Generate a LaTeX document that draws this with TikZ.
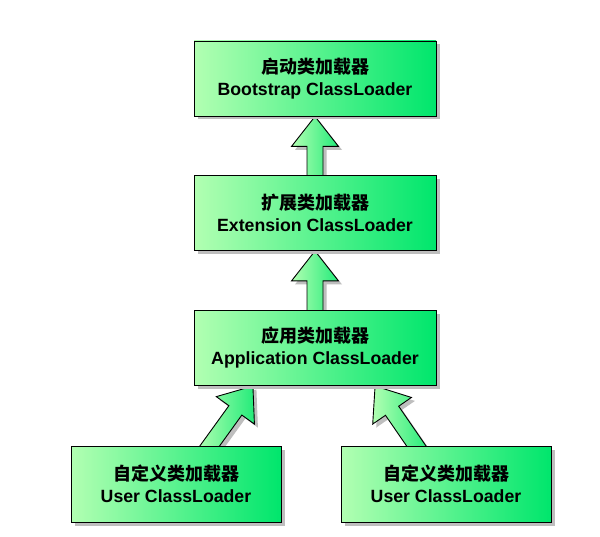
\documentclass[tikz,border=0pt]{standalone}
\usepackage{fontspec}
\setmainfont{Liberation Sans}
\newfontfamily\cjk{Noto Sans CJK SC}
\usetikzlibrary{calc,shadows,backgrounds}
\definecolor{gl}{RGB}{178,255,178}
\definecolor{gr}{RGB}{0,230,108}
\definecolor{shd}{RGB}{190,190,190}
\tikzset{
  loader/.style={draw=black, line width=0.9pt, left color=gl, right color=gr,
    minimum width=242pt, minimum height=75pt, align=center, inner sep=0pt,
    font=\bfseries\fontsize{17.7}{22}\selectfont,
    drop shadow={shadow xshift=3.5pt, shadow yshift=-3.5pt, fill=shd, opacity=1}},
  userloader/.style={loader, minimum width=210pt, minimum height=76pt},
  blockarrowstyle/.style={draw=black, line width=0.9pt, left color=gl, right color=gr!80!gl,
    drop shadow={shadow xshift=3.5pt, shadow yshift=-3.5pt, fill=shd, opacity=1}}
}
\newcommand\cn[1]{{\cjk\bfseries\fontsize{18}{22}\selectfont #1}}
\newcommand\blkarrow[2]{%
  \path[blockarrowstyle] let \p1=(#1), \p2=(#2),
      \n1={atan2(\y2-\y1,\x2-\x1)}, \n2={veclen(\x2-\x1,\y2-\y1)} in
    [shift={(\p1)}, rotate=\n1]
    (-12,-8) -- ({\n2-30},-8) -- ({\n2-30},-23.5) -- (\n2,0) --
    ({\n2-30},23.5) -- ({\n2-30},8) -- (-12,8) -- cycle;%
}
\begin{document}
\begin{tikzpicture}[x=1pt,y=1pt]
  \useasboundingbox (0,0) rectangle (600,536);
  \node[loader] (b1) at (315,457.5) {\cn{启动类加载器}\\Bootstrap ClassLoader};
  \node[loader] (b2) at (315,323) {\cn{扩展类加载器}\\Extension ClassLoader};
  \node[loader] (b3) at (315,188) {\cn{应用类加载器}\\Application ClassLoader};
  \node[userloader] (b4) at (176,52) {\cn{自定义类加载器}\\User ClassLoader};
  \node[userloader] (b5) at (446,52) {\cn{自定义类加载器}\\User ClassLoader};
  \begin{scope}[on background layer]
    \fill[white] (0,0) rectangle (600,536);
    \blkarrow{b2.north}{b1.south}
    \blkarrow{b3.north}{b2.south}
    \blkarrow{$(b4.north)+(34,0)$}{$(b3.south)+(-62,0)$}
    \blkarrow{$(b5.north)+(-30,0)$}{$(b3.south)+(60,0)$}
  \end{scope}
\end{tikzpicture}
\end{document}
